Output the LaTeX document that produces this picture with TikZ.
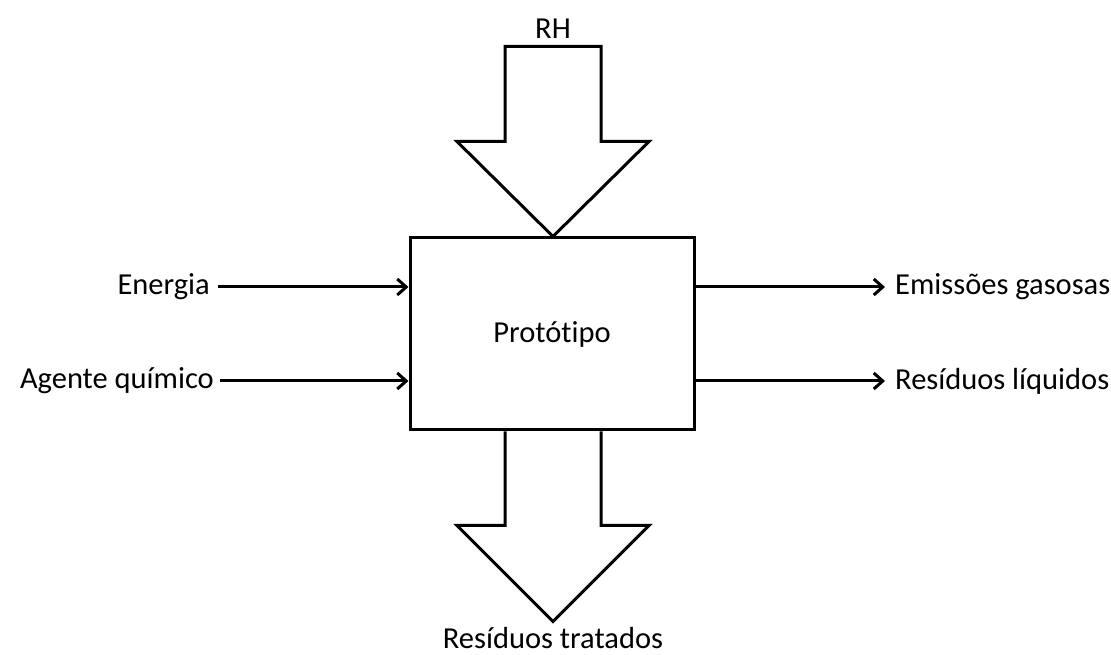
\documentclass[tikz,border=0pt]{standalone}
\usepackage{fontspec}
\setmainfont{Carlito}[Ligatures=NoCommon]
\usetikzlibrary{calc,arrows.meta}

\tikzset{
	lbl/.style={inner sep=4pt,font=\fontsize{30.5}{36}\selectfont},
	flow/.style={line width=3pt,-{Straight Barb[length=9pt,width=16pt,line width=3pt]}},
	blk/.style={line width=3pt,line join=miter}
}

\begin{document}
\begin{tikzpicture}[x=1pt,y=1pt]
	\useasboundingbox (0,0) rectangle (1111,655);
	\node[draw,line width=3pt,minimum width=284pt,minimum height=192pt,lbl] (proto) at (552,321) {Protótipo};
	
	\node[lbl,anchor=east] (ener) at (214,368) {Energia};
	\node[lbl,anchor=east] (agen) at (218,274) {Agente químico};
	\node[lbl,anchor=west] (emis) at (891,368) {Emissões gasosas};
	\node[lbl,anchor=west] (resl) at (891,274) {Resíduos líquidos};
	\node[lbl] (rh) at (553,626) {RH};
	\node[lbl] (rest) at (553,17) {Resíduos tratados};
	
	\draw[flow,shorten <=4pt] (ener.east) -- (ener.east -| proto.west);
	\draw[flow,shorten <=2pt] (agen.east) -- (agen.east -| proto.west);
	\draw[flow,shorten >=6pt] (emis.west -| proto.east) -- (emis.west);
	\draw[flow,shorten >=6pt] (resl.west -| proto.east) -- (resl.west);
	
	\draw[blk] ($(proto.north)+(1,0)$) coordinate (tipa) -- ++(96,95) -- ++(-48,0) -- ++(0,95) -- ++(-96,0) -- ++(0,-95) -- ++(-48,0) -- cycle;
	\draw[blk] ($(proto.south)+(-47,0)$) -- ++(0,-94) -- ++(-48,0) -- ++(96,-96) coordinate (tipb) -- ++(96,96) -- ++(-48,0) -- ++(0,94);
\end{tikzpicture}
\end{document}
